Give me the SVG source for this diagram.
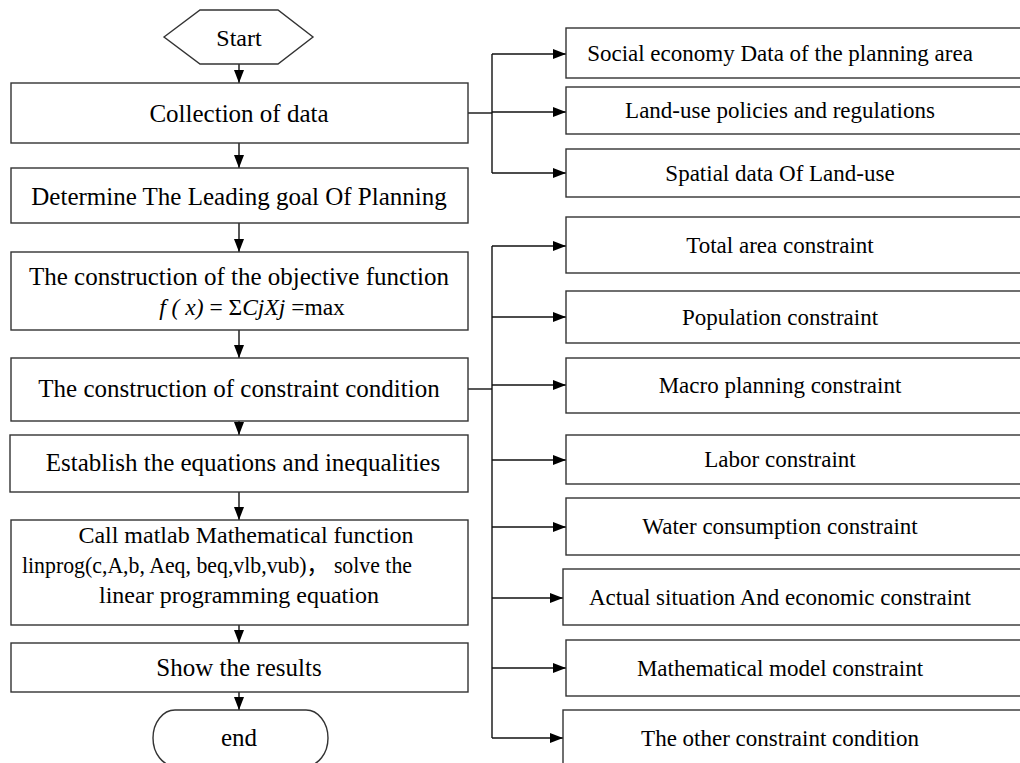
<svg xmlns="http://www.w3.org/2000/svg" width="1020" height="763" viewBox="0 0 1020 763">
<style>
.box{fill:#fff;stroke:#333;stroke-width:1.4}
.ln{fill:none;stroke:#111;stroke-width:1.4}
.t{font-family:"Liberation Serif","Times New Roman","Noto Sans CJK SC",serif;font-size:25px;fill:#000;text-anchor:middle}
.r{font-family:"Liberation Serif","Times New Roman","Noto Sans CJK SC",serif;font-size:23px;fill:#000;text-anchor:middle}
</style>
<defs>
<marker id="ah" viewBox="0 0 13 10" refX="13" refY="5" markerWidth="13" markerHeight="10" markerUnits="userSpaceOnUse" orient="auto">
<path d="M0,0 L13,5 L0,10 Z" fill="#000"/>
</marker>
</defs>
<rect width="1020" height="763" fill="#fff"/>
<g id="connectors">
<line class="ln" x1="239" y1="64" x2="239" y2="83" marker-end="url(#ah)"/>
<line class="ln" x1="239" y1="143" x2="239" y2="168" marker-end="url(#ah)"/>
<line class="ln" x1="239" y1="223" x2="239" y2="252" marker-end="url(#ah)"/>
<line class="ln" x1="239" y1="330" x2="239" y2="358" marker-end="url(#ah)"/>
<line class="ln" x1="239" y1="421" x2="239" y2="435" marker-end="url(#ah)"/>
<line class="ln" x1="239" y1="492" x2="239" y2="520" marker-end="url(#ah)"/>
<line class="ln" x1="239" y1="625" x2="239" y2="643" marker-end="url(#ah)"/>
<line class="ln" x1="239" y1="692" x2="239" y2="710" marker-end="url(#ah)"/>
<polyline class="ln" points="468,113 492,113"/>
<line class="ln" x1="492" y1="54" x2="492" y2="173"/>
<line class="ln" x1="492" y1="54" x2="566" y2="54" marker-end="url(#ah)"/>
<line class="ln" x1="492" y1="112" x2="566" y2="112" marker-end="url(#ah)"/>
<line class="ln" x1="492" y1="173" x2="566" y2="173" marker-end="url(#ah)"/>
<polyline class="ln" points="468,389 492,389"/>
<line class="ln" x1="492" y1="246" x2="492" y2="738"/>
<line class="ln" x1="492" y1="246" x2="566" y2="246" marker-end="url(#ah)"/>
<line class="ln" x1="492" y1="317" x2="566" y2="317" marker-end="url(#ah)"/>
<line class="ln" x1="492" y1="385" x2="566" y2="385" marker-end="url(#ah)"/>
<line class="ln" x1="492" y1="460" x2="566" y2="460" marker-end="url(#ah)"/>
<line class="ln" x1="492" y1="527" x2="566" y2="527" marker-end="url(#ah)"/>
<line class="ln" x1="492" y1="598" x2="563" y2="598" marker-end="url(#ah)"/>
<line class="ln" x1="492" y1="668" x2="566" y2="668" marker-end="url(#ah)"/>
<line class="ln" x1="492" y1="738" x2="563" y2="738" marker-end="url(#ah)"/>
</g>
<g id="start">
<polygon class="box" points="164,37 200,10 278,10 313,37 278,64 200,64"/>
<text class="t" x="239" y="46" style="font-size:24px">Start</text>
</g>
<g id="collect">
<rect class="box" x="11" y="83" width="457" height="60"/>
<text class="t" x="239" y="122">Collection of data</text>
</g>
<g id="goal">
<rect class="box" x="11" y="168" width="457" height="55"/>
<text class="t" x="239" y="205">Determine The Leading goal Of Planning</text>
</g>
<g id="objective">
<rect class="box" x="11" y="252" width="457" height="78"/>
<text class="t" x="239" y="285">The construction of the objective function</text>
<text class="t" x="252" y="315" style="font-size:23.5px"><tspan font-style="italic">f ( x)</tspan> = Σ<tspan font-style="italic">CjXj</tspan> =max</text>
</g>
<g id="constraint">
<rect class="box" x="11" y="358" width="457" height="63"/>
<text class="t" x="239" y="397">The construction of constraint condition</text>
</g>
<g id="establish">
<rect class="box" x="10" y="435" width="458" height="57"/>
<text class="t" x="243" y="471">Establish the equations and inequalities</text>
</g>
<g id="matlab">
<rect class="box" x="11" y="520" width="457" height="105"/>
<text class="t" x="246" y="543" style="font-size:24px">Call matlab Mathematical function</text>
<text class="t" x="22" y="573" style="font-size:23px;text-anchor:start" textLength="390" lengthAdjust="spacingAndGlyphs">linprog(c,A,b, Aeq, beq,vlb,vub)，  solve the</text>
<text class="t" x="239" y="603" style="font-size:24px">linear programming equation</text>
</g>
<g id="show">
<rect class="box" x="11" y="643" width="457" height="49"/>
<text class="t" x="239" y="676">Show the results</text>
</g>
<g id="end">
<rect class="box" x="153" y="710" width="175" height="56" rx="22" ry="28"/>
<text class="t" x="239" y="746">end</text>
</g>
<g id="social">
<rect class="box" x="566" y="28" width="470" height="50"/>
<text class="r" x="780" y="61">Social economy Data of the planning area</text>
</g>
<g id="policies">
<rect class="box" x="566" y="87" width="470" height="47"/>
<text class="r" x="780" y="118">Land-use policies and regulations</text>
</g>
<g id="spatial">
<rect class="box" x="566" y="149" width="470" height="48"/>
<text class="r" x="780" y="181">Spatial data Of Land-use</text>
</g>
<g id="total">
<rect class="box" x="566" y="217" width="470" height="56"/>
<text class="r" x="780" y="253">Total area constraint</text>
</g>
<g id="population">
<rect class="box" x="566" y="291" width="470" height="52"/>
<text class="r" x="780" y="325">Population constraint</text>
</g>
<g id="macro">
<rect class="box" x="566" y="358" width="470" height="55"/>
<text class="r" x="780" y="393">Macro planning constraint</text>
</g>
<g id="labor">
<rect class="box" x="566" y="435" width="470" height="49"/>
<text class="r" x="780" y="467">Labor constraint</text>
</g>
<g id="water">
<rect class="box" x="566" y="498" width="470" height="57"/>
<text class="r" x="780" y="534">Water consumption constraint</text>
</g>
<g id="actual">
<rect class="box" x="563" y="569" width="470" height="56"/>
<text class="r" x="780" y="605">Actual situation And economic constraint</text>
</g>
<g id="mathmodel">
<rect class="box" x="566" y="640" width="470" height="56"/>
<text class="r" x="780" y="676">Mathematical model constraint</text>
</g>
<g id="other">
<rect class="box" x="563" y="710" width="470" height="70"/>
<text class="r" x="780" y="746">The other constraint condition</text>
</g>
</svg>
